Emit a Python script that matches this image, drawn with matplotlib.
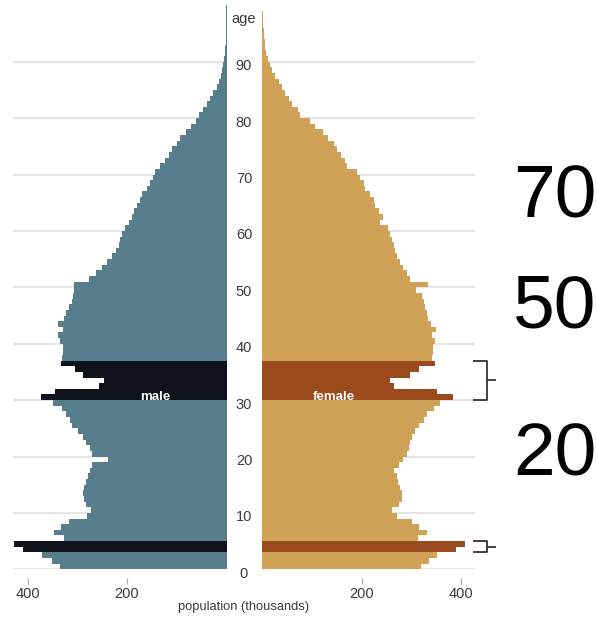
import numpy as np
import matplotlib
matplotlib.use("Agg")
import matplotlib.pyplot as plt
import matplotlib.transforms as mtransforms

# ---------------------------------------------------------
# data (thousands, single year of age 0..99)
# ---------------------------------------------------------
ages = list(range(100))

male = [335, 351, 371, 409, 427, 327, 347, 332, 317, 280,
        272, 282, 287, 288, 286, 282, 279, 275, 270, 239,
        270, 275, 282, 288, 299, 310, 315, 322, 331, 349,
        374, 344, 257, 247, 288, 304, 332, 331, 329, 329,
        335, 339, 329, 339, 327, 322, 317, 310, 308, 306,
        307, 276, 263, 251, 241, 231, 223, 217, 215, 211,
        204, 197, 190, 186, 181, 173, 170, 160, 153, 148,
        143, 133, 123, 116, 109, 99, 93, 82, 72, 62,
        56, 47, 40, 34, 27, 20, 15, 12, 9, 7,
        5, 3.5, 2.7, 2, 1.3, 0.8, 0.5, 0.3, 0.2, 0.1]

female = [319, 335, 351, 390, 408, 313, 331, 315, 301, 271,
          262, 276, 281, 281, 278, 274, 271, 266, 276, 284,
          291, 296, 298, 302, 307, 316, 325, 331, 345, 358,
          383, 351, 266, 258, 298, 315, 347, 341, 343, 343,
          348, 341, 350, 340, 333, 331, 328, 325, 321, 310,
          333, 298, 291, 283, 278, 271, 268, 266, 261, 258,
          254, 236, 243, 234, 227, 224, 217, 207, 204, 197,
          190, 170, 167, 158, 150, 144, 133, 123, 107, 97,
          76, 73, 60, 53, 46, 40, 33, 26, 19, 15,
          11, 8, 6, 4.7, 3.4, 2.7, 2, 1.3, 0.8, 0.5]

# highlighted cohorts (ages)
highlight = [3, 4, 30, 31, 32, 33, 34, 35, 36]

grid_ages = list(range(0, 91, 10))
x_ticks = [400, 200]
big_numbers = ["70", "50", "20"]

MALE_COL = "#587d8c"
MALE_DARK = "#0f121b"
FEMALE_COL = "#cfa258"
FEMALE_DARK = "#9b4a1e"
TEXT_COL = "#3a3a3a"
GRID_COL = "#e6e6e6"

SANS = ["Liberation Sans", "DejaVu Sans"]

W, H = 597, 617
fig = plt.figure(figsize=(W / 100, H / 100), dpi=100)

bottom = 47.7 / H
height = 564 / H
ax_m = fig.add_axes([12.7 / W, bottom, (226.5 - 12.7) / W, height])
ax_f = fig.add_axes([262.2 / W, bottom, (475 - 262.2) / W, height])

male_colors = [MALE_DARK if a in highlight else MALE_COL for a in ages]
female_colors = [FEMALE_DARK if a in highlight else FEMALE_COL for a in ages]

ax_m.barh(ages, male, height=1, align="edge", color=male_colors, linewidth=0, zorder=2)
ax_f.barh(ages, female, height=1, align="edge", color=female_colors, linewidth=0, zorder=2)

ax_m.set_xlim(430, 0)
ax_f.set_xlim(0, 428)

for ax in (ax_m, ax_f):
    ax.set_ylim(0, 100)
    for s in ax.spines.values():
        s.set_visible(False)
    ax.set_yticks(grid_ages)
    ax.yaxis.grid(True, color=GRID_COL, lw=1.5, zorder=0)
    ax.tick_params(axis="y", length=0, labelleft=False)
    ax.set_axisbelow(True)
    ax.spines["bottom"].set_position(("outward", 6.5))
    ax.set_xticks(x_ticks)
    ax.set_xticklabels([str(t) for t in x_ticks], family=SANS,
                       fontsize=10.5, color=TEXT_COL)
    ax.tick_params(axis="x", length=4.5, width=0.8, color="#aaaaaa", pad=1.5)

# age labels in the middle column
trans = mtransforms.blended_transform_factory(fig.transFigure, ax_m.transData)
for a in grid_ages:
    ax_m.text(244 / W, a - 0.8, str(a), transform=trans, ha="center", va="center",
              family=SANS, fontsize=10.5, color=TEXT_COL, clip_on=False)
ax_m.text(244 / W, 97.6, "age", transform=trans, ha="center", va="center",
          family=SANS, fontsize=10.5, color=TEXT_COL, clip_on=False)

ax_m.text(143, 30.5, "male", ha="center", va="center", color="white",
          family=SANS, fontsize=9.5, fontweight="bold", zorder=5)
ax_f.text(144, 30.5, "female", ha="center", va="center", color="white",
          family=SANS, fontsize=9.5, fontweight="bold", zorder=5)

fig.text(244 / W, 1 - 607 / H, "population (thousands)", ha="center", va="center",
         family=SANS, fontsize=9.3, color=TEXT_COL)

# brackets on the right
def bracket(ax, lo, hi):
    x0, x1, x2 = 424, 452, 470
    kw = dict(color="#333333", lw=1.3, clip_on=False, solid_capstyle="butt")
    ax.plot([x0, x1, x1, x0], [lo, lo, hi, hi], **kw)
    ax.plot([x1, x2], [(lo + hi) / 2, (lo + hi) / 2], **kw)

bracket(ax_f, 30, 37)
bracket(ax_f, 3, 5)

# big numbers at the right edge
for txt, base in zip(big_numbers, [217, 328, 475]):
    fig.text(555 / W, 1 - base / H, txt, ha="center", va="baseline",
             family=SANS, fontsize=54, color="black")

fig.savefig("out.png", dpi=100)
